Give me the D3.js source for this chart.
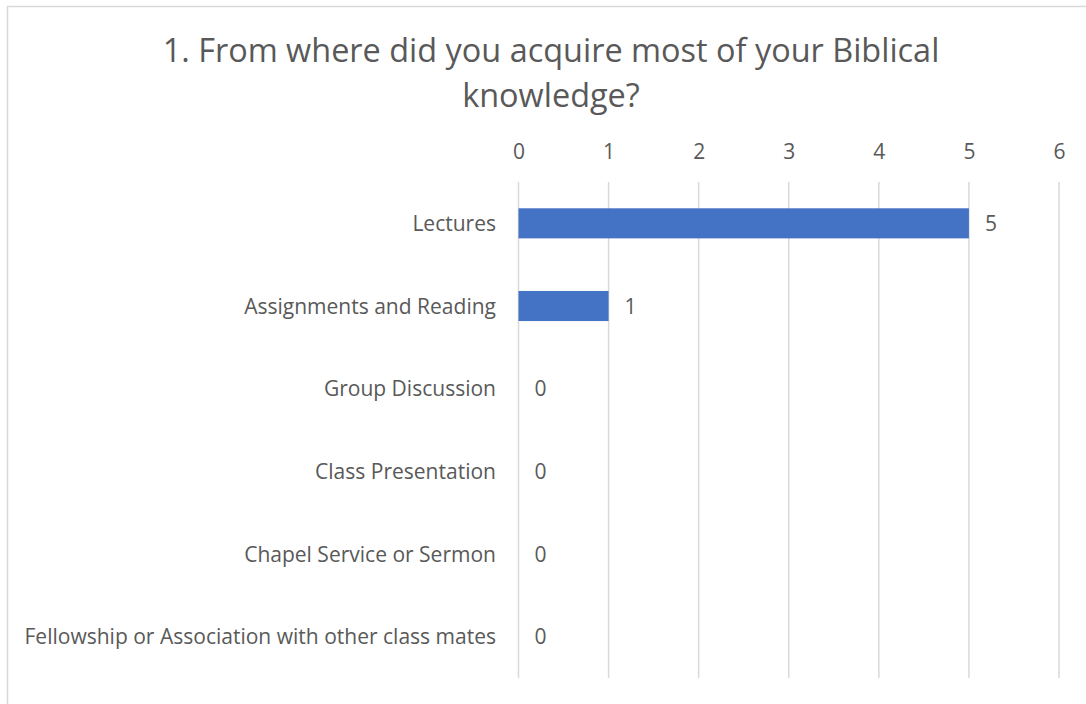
<!DOCTYPE html>
<html>
<head>
<meta charset="utf-8">
<script src="https://cdn.jsdelivr.net/npm/d3@7"></script>
<style>
  body { margin: 0; background: #fff; }
  svg text { font-family: "Open Sans", "Noto Sans", sans-serif; fill: #595959; }
</style>
</head>
<body>
<svg id="chart" width="1086" height="704"></svg>
<script>
// data
var categories = ["Lectures", "Assignments and Reading", "Group Discussion",
                  "Class Presentation", "Chapel Service or Sermon",
                  "Fellowship or Association with other class mates"];
var counts = [5, 1, 0, 0, 0, 0];
var tickValues = [0, 1, 2, 3, 4, 5, 6];
var titleLines = ["1. From where did you acquire most of your Biblical", "knowledge?"];

var svg = d3.select("#chart");

// chart frame (cut off on the right and bottom in the original)
svg.append("rect")
    .attr("x", 7.5).attr("y", 6.5)
    .attr("width", 1200).attr("height", 800)
    .attr("fill", "#fff")
    .attr("stroke", "#d9d9d9")
    .attr("stroke-width", 1.5);

var x = d3.scaleLinear().domain([0, 6]).range([518.5, 1059]);
var y = d3.scaleBand().domain(categories).range([182, 678]).paddingInner(0.636).paddingOuter(0.318);

// shrink / grow a text so it spans a given width
function fit(sel, target) {
    sel.each(function() {
        var w = this.getComputedTextLength();
        var fs = parseFloat(d3.select(this).style("font-size"));
        d3.select(this).style("font-size", (fs * target / w) + "px");
    });
}

// title
var title = svg.append("g").attr("class", "title");
title.selectAll("text")
    .data(titleLines).enter()
    .append("text")
    .attr("x", 551)
    .attr("y", (d, i) => 62 + i * 45)
    .attr("text-anchor", "middle")
    .style("font-size", "30px")
    .text(d => d);
fit(title.select("text"), 777);
title.selectAll("text").style("font-size", title.select("text").style("font-size"));

// gridlines
svg.append("g").attr("class", "grid")
    .selectAll("line")
    .data(tickValues).enter()
    .append("line")
    .attr("x1", d => x(d)).attr("x2", d => x(d))
    .attr("y1", 182).attr("y2", 678)
    .attr("stroke", "#d9d9d9")
    .attr("stroke-width", 1.5);

// top axis
var axis = svg.append("g")
    .attr("transform", "translate(0,159)")
    .call(d3.axisTop(x).tickValues(tickValues).tickFormat(d3.format("d")).tickSize(0).tickPadding(0));
axis.select(".domain").remove();
axis.selectAll("text")
    .attr("fill", "#595959")
    .attr("dy", 0);

// bars
svg.append("g").attr("class", "bars")
    .selectAll("rect")
    .data(categories).enter()
    .append("rect")
    .attr("x", x(0))
    .attr("y", d => y(d))
    .attr("width", (d, i) => x(counts[i]) - x(0))
    .attr("height", y.bandwidth())
    .attr("fill", "#4472c4");

// value labels
svg.append("g").attr("class", "values")
    .selectAll("text")
    .data(categories).enter()
    .append("text")
    .attr("x", (d, i) => x(counts[i]) + 16)
    .attr("y", d => y(d) + y.bandwidth() / 2)
    .attr("dy", "0.36em")
    .text((d, i) => counts[i]);

// category labels
var labels = svg.append("g").attr("class", "labels")
    .selectAll("text")
    .data(categories).enter()
    .append("text")
    .attr("x", 496)
    .attr("y", d => y(d) + y.bandwidth() / 2)
    .attr("dy", "0.36em")
    .attr("text-anchor", "end")
    .style("font-size", "18px")
    .text(d => d);
fit(labels.filter((d, i) => i == categories.length - 1), 472);
labels.style("font-size", labels.filter((d, i) => i == categories.length - 1).style("font-size"));
svg.selectAll(".values text, .tick text").style("font-size", labels.style("font-size"));
</script>
</body>
</html>
